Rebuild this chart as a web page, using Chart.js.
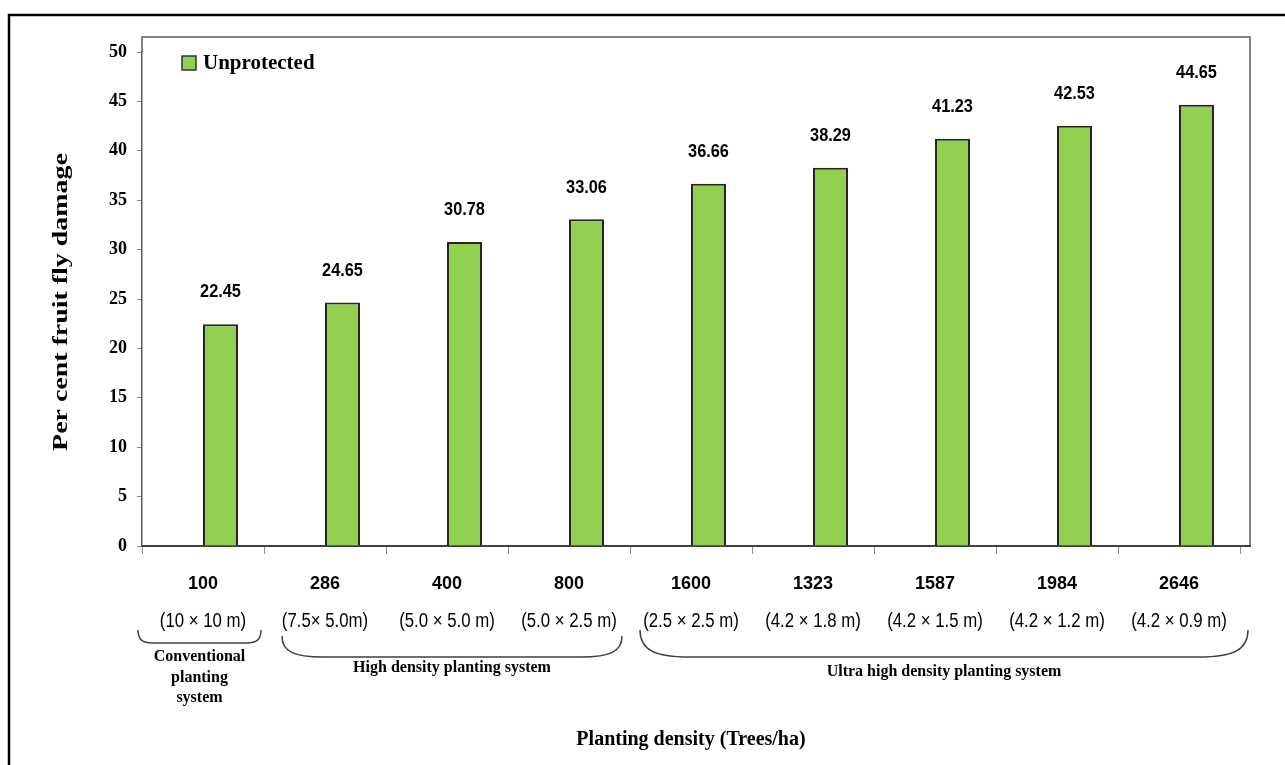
<!DOCTYPE html>
<html>
<head>
<meta charset="utf-8">
<script src="https://cdn.jsdelivr.net/npm/chart.js@4.4.1/dist/chart.umd.min.js"></script>
<style>
html,body{margin:0;padding:0;background:#fff;}
canvas{display:block;}
</style>
</head>
<body>
<canvas id="c" width="1285" height="765"></canvas>
<script>
// ---- data ----
const densities = ['100', '286', '400', '800', '1600', '1323', '1587', '1984', '2646'];
const spacings = ['(10 × 10 m)', '(7.5× 5.0m)', '(5.0 × 5.0 m)', '(5.0 × 2.5 m)', '(2.5 × 2.5 m)', '(4.2 × 1.8 m)', '(4.2 × 1.5 m)', '(4.2 × 1.2 m)', '(4.2 × 0.9 m)'];
const unprotected = [22.45, 24.65, 30.78, 33.06, 36.66, 38.29, 41.23, 42.53, 44.65];
const groupNames = [['Conventional', 'planting', 'system'], ['High density planting system'], ['Ultra high density planting system']];
const groupFirst = [0, 1, 4];
const groupLast = [0, 3, 8];
const yTicks = [0, 5, 10, 15, 20, 25, 30, 35, 40, 45, 50];
const seriesName = 'Unprotected';
const yTitle = 'Per cent fruit fly damage';
const xTitle = 'Planting density (Trees/ha)';

// ---- styles ----
const SANS = '"Liberation Sans", Arial, sans-serif';
const SERIF = '"Liberation Serif", "Times New Roman", serif';
const GREEN = '#92D050';
const braceInset = [[-4, -3], [18, -8], [10, 8]];
const braceTopOff = [84, 90, 84];
const braceBotOff = [97, 111, 111];
const groupLabelOff = [111, 122, 126];

function drawBrace(ctx, x0, x1, yT, yB) {
  const r = Math.min(50, (x1 - x0) * 0.12);
  const d = yB - yT;
  ctx.beginPath();
  ctx.moveTo(x0, yT);
  ctx.bezierCurveTo(x0, yT + d * 0.75, x0 + r * 0.3, yB, x0 + r, yB);
  ctx.lineTo(x1 - r, yB);
  ctx.bezierCurveTo(x1 - r * 0.3, yB, x1, yT + d * 0.75, x1, yT);
  ctx.stroke();
}

// condensed text (narrow font look)
function narrowText(ctx, text, x, y, sx) {
  ctx.save();
  ctx.translate(x, y);
  ctx.scale(sx, 1);
  ctx.fillText(text, 0, 0);
  ctx.restore();
}

const decor = {
  id: 'decor',
  afterDraw(chart) {
    const ctx = chart.ctx;
    const {left, right, top, bottom} = chart.chartArea;
    const xs = chart.scales.x;
    ctx.save();

    // plot-area frame
    ctx.strokeStyle = '#595959';
    ctx.lineWidth = 1.5;
    ctx.beginPath();
    ctx.moveTo(left, top);
    ctx.lineTo(left, top - 15);
    ctx.lineTo(right + 10, top - 15);
    ctx.lineTo(right + 10, bottom);
    ctx.stroke();
    ctx.strokeStyle = '#404040';
    ctx.lineWidth = 2;
    ctx.beginPath();
    ctx.moveTo(right, bottom);
    ctx.lineTo(right + 11, bottom);
    ctx.stroke();

    // legend
    const ds = chart.data.datasets[1];
    ctx.fillStyle = ds.backgroundColor;
    ctx.fillRect(left + 40, top + 4, 14, 14);
    ctx.strokeStyle = '#333';
    ctx.lineWidth = 1.5;
    ctx.strokeRect(left + 40, top + 4, 14, 14);
    ctx.fillStyle = '#000';
    ctx.font = 'bold 21px ' + SERIF;
    ctx.textAlign = 'left';
    ctx.textBaseline = 'middle';
    ctx.fillText(ds.label, left + 61, top + 12);

    // value labels
    const meta = chart.getDatasetMeta(1);
    ctx.font = 'bold 19px ' + SANS;
    ctx.textAlign = 'center';
    meta.data.forEach((el, i) => {
      narrowText(ctx, unprotected[i].toFixed(2), el.x, el.y - 32, 0.86);
    });

    // spacing labels
    ctx.font = '20px ' + SANS;
    spacings.forEach((s, i) => {
      narrowText(ctx, s, xs.getPixelForValue(i), bottom + 75, 0.84);
    });

    // braces + group labels
    const w = xs.getPixelForValue(1) - xs.getPixelForValue(0);
    ctx.strokeStyle = '#404040';
    ctx.lineWidth = 1.5;
    ctx.font = 'bold 16px ' + SERIF;
    groupNames.forEach((lines, g) => {
      const x0 = xs.getPixelForValue(groupFirst[g]) - w / 2 + braceInset[g][0];
      const x1 = xs.getPixelForValue(groupLast[g]) + w / 2 + braceInset[g][1];
      drawBrace(ctx, x0, x1, bottom + braceTopOff[g], bottom + braceBotOff[g]);
      lines.forEach((t, k) => {
        ctx.fillText(t, (x0 + x1) / 2, bottom + groupLabelOff[g] + k * 20.5);
      });
    });

    // y title (stretched along its length)
    ctx.save();
    ctx.translate(62, (top + bottom) / 2 + 3);
    ctx.rotate(-Math.PI / 2);
    ctx.scale(1.33, 1);
    ctx.font = 'bold 21px ' + SERIF;
    ctx.fillText(yTitle, 0, 0);
    ctx.restore();

    // outer frame
    ctx.strokeStyle = '#000';
    ctx.lineWidth = 2.5;
    ctx.beginPath();
    ctx.moveTo(9, 780);
    ctx.lineTo(9, 15);
    ctx.lineTo(1295, 15);
    ctx.stroke();

    ctx.restore();
  }
};

new Chart(document.getElementById('c').getContext('2d'), {
  type: 'bar',
  data: {
    labels: densities,
    datasets: [
      {label: '', data: densities.map(() => null), backgroundColor: 'rgba(0,0,0,0)',
       categoryPercentage: 0.574, barPercentage: 1},
      {label: seriesName, data: unprotected, backgroundColor: GREEN, borderColor: '#262626',
       borderWidth: 2, categoryPercentage: 0.574, barPercentage: 1}
    ]
  },
  options: {
    responsive: false,
    animation: false,
    layout: {padding: {top: 52, right: 45, left: 0, bottom: 0}},
    plugins: {legend: {display: false}, tooltip: {enabled: false}},
    scales: {
      x: {
        grid: {display: true, drawOnChartArea: false, drawTicks: true, tickLength: 8, color: '#8c8c8c', offset: true},
        border: {display: true, color: '#404040', width: 2},
        ticks: {font: {family: SANS, size: 18, weight: 'bold'}, color: '#000', padding: 19, maxRotation: 0, autoSkip: false},
        title: {display: true, text: xTitle, font: {family: SERIF, size: 20, weight: 'bold'}, color: '#000', padding: {top: 0, bottom: 13}},
        afterFit(s) { s.height = 219; }
      },
      y: {
        min: 0, max: 50,
        afterBuildTicks(s) { s.ticks = yTicks.map(v => ({value: v})); },
        grid: {drawOnChartArea: false, drawTicks: true, tickLength: 5, color: '#8c8c8c'},
        border: {display: true, color: '#595959', width: 1.5},
        ticks: {font: {family: SERIF, size: 18, weight: 'bold'}, color: '#000', padding: 10},
        afterFit(s) { s.width = 142; }
      }
    }
  },
  plugins: [decor]
});
</script>
</body>
</html>
